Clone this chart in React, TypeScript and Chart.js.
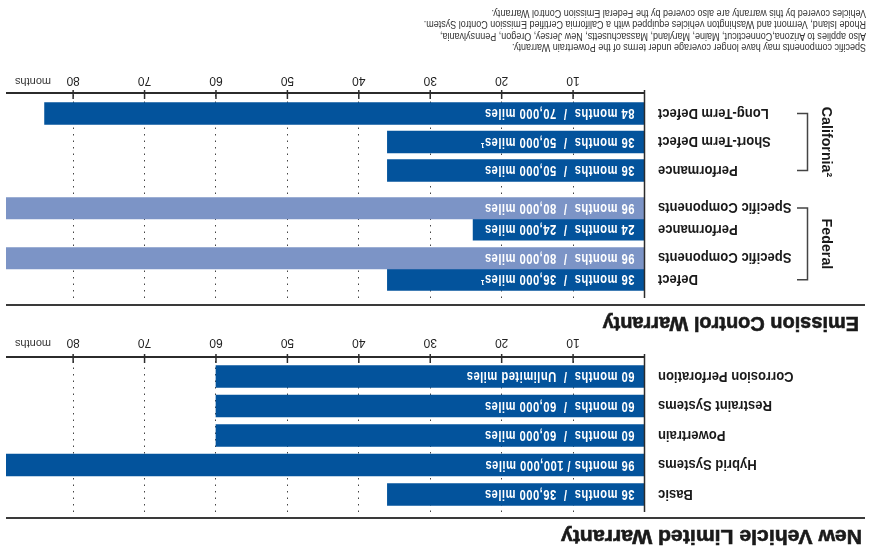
import React, { useEffect, useRef } from 'react';
import { Chart, registerables } from 'chart.js';

Chart.register(...registerables);

// ---------- data ----------
const nvTitle = 'New Vehicle Limited Warranty';
const nvCategories = ['Basic', 'Hybrid Systems', 'Powertrain', 'Restraint Systems', 'Corrosion Perforation'];
const nvMonths = [36, 96, 60, 60, 60];
const nvBarText = [
  '36 months  /  36,000 miles',
  '96 months / 100,000 miles',
  '60 months  /  60,000 miles',
  '60 months  /  60,000 miles',
  '60 months  /  Unlimited miles',
];

const ecTitle = 'Emission Control Warranty';
const fedGroup = 'Federal';
const fedDefectCategories = ['Defect', 'Specific Components'];
const fedDefectMonths = [36, 96];
const fedDefectText = ['36 months  /  36,000 miles\u00B9', '96 months  /  80,000 miles'];
const fedPerfCategories = ['Performance', 'Specific Components'];
const fedPerfMonths = [24, 96];
const fedPerfText = ['24 months  /  24,000 miles', '96 months  /  80,000 miles'];
const fedRowKinds = ['coverage', 'specific'];

const caGroup = 'California\u00B2';
const caCategories = ['Performance', 'Short-Term Defect', 'Long-Term Defect'];
const caMonths = [36, 36, 84];
const caBarText = ['36 months  /  50,000 miles', '36 months  /  50,000 miles\u00B9', '84 months  /  70,000 miles'];

const tickValues = [10, 20, 30, 40, 50, 60, 70, 80];
const axisMax = 89.4;
const axisUnit = 'months';

const footnotes = [
  'Specific components may have longer coverage under terms of the Powertrain Warranty.',
  'Also applies to Arizona,Connecticut, Maine, Maryland, Massachusetts, New Jersey, Oregon, Pennsylvania,',
  'Rhode Island, Vermont and Washington vehicles equipped with a California Certified Emission Control System.',
  'Vehicles covered by this warranty are also covered by the Federal Emission Control Warranty.',
];

// ---------- style ----------
const FONT = "'Liberation Sans', Arial, Helvetica, sans-serif";
const DARK = '#03539C';
const LIGHT = '#7C94C6';
const INK = '#1a1a1a';
const kindColor = (k: string) => (k === 'specific' ? LIGHT : DARK);
const LABEL_AXES = ['y', 'yF1', 'yF2', 'yCa'];

function xScaleCfg(labelPad: number) {
  return {
    type: 'linear',
    axis: 'x',
    position: 'bottom',
    min: 0,
    max: axisMax,
    afterBuildTicks: (s: any) => {
      s.ticks = tickValues.map((v) => ({ value: v }));
    },
    afterFit: (s: any) => {
      s.height = 30;
    },
    grid: { display: true, color: '#444', lineWidth: 1, drawTicks: false },
    border: { display: false, dash: [1.5, 5] },
    ticks: {
      padding: labelPad,
      color: '#222',
      autoSkip: false,
      maxRotation: 0,
      font: { family: FONT, size: 12 },
      callback: (v: any) => String(v),
    },
  };
}

function spacer(weight: number, stackWeight: number, stack: string) {
  return {
    type: 'category',
    axis: 'y',
    position: 'left',
    labels: [''],
    stack,
    stackWeight,
    weight,
    display: false,
  };
}

function catScale(labels: string[], weight: number, stackWeight: number, stack: string) {
  return {
    type: 'category',
    axis: 'y',
    position: 'left',
    labels,
    stack,
    stackWeight,
    weight,
    offset: true,
    afterFit: (s: any) => {
      s.width = 226.5;
    },
    grid: { display: false, drawTicks: false },
    border: { display: false },
    ticks: { display: false, autoSkip: false },
  };
}

function condensedText(
  ctx: CanvasRenderingContext2D,
  text: string,
  x: number,
  y: number,
  font: string,
  color: string,
  align: CanvasTextAlign,
  sx: number,
  spacing: string,
) {
  ctx.save();
  ctx.translate(x, y);
  ctx.scale(sx, 1);
  ctx.font = font;
  (ctx as any).letterSpacing = spacing;
  ctx.fillStyle = color;
  ctx.textAlign = align;
  ctx.textBaseline = 'middle';
  ctx.fillText(text, 0, 0);
  ctx.restore();
}

function drawBracket(ctx: CanvasRenderingContext2D, y0: number, y1: number, text: string) {
  const xv = 63.5;
  const xt = 74;
  ctx.save();
  ctx.strokeStyle = '#444';
  ctx.lineWidth = 1.5;
  ctx.beginPath();
  ctx.moveTo(xt, y0);
  ctx.lineTo(xv, y0);
  ctx.lineTo(xv, y1);
  ctx.lineTo(xt, y1);
  ctx.stroke();
  ctx.translate(44.5, (y0 + y1) / 2);
  ctx.rotate(-Math.PI / 2);
  condensedText(ctx, text, 0, 0, `bold 15px ${FONT}`, INK, 'center', 0.95, '0px');
  ctx.restore();
}

const decorPlugin = {
  id: 'decor',
  afterDraw(chart: any) {
    const { ctx, chartArea: a, scales } = chart;
    const xs = scales.x;
    ctx.save();
    // category labels
    LABEL_AXES.forEach((id) => {
      const s = scales[id];
      if (!s) return;
      const labels = s.getLabels();
      labels.forEach((lab: string, i: number) => {
        condensedText(ctx, lab, a.left - 13.5, s.getPixelForTick(i) + 0.5, `bold 15px ${FONT}`, INK, 'right', 0.87, '0px');
      });
    });
    // bar texts
    chart.data.datasets.forEach((ds: any, di: number) => {
      const meta = chart.getDatasetMeta(di);
      meta.data.forEach((bar: any, i: number) => {
        const t = ds.barText ? ds.barText[i] : '';
        if (!t) return;
        condensedText(ctx, t, bar.base + 10, bar.y + 0.5, `bold 14px ${FONT}`, '#ffffff', 'left', 0.8, '0.6px');
      });
    });
    // axis lines
    ctx.strokeStyle = '#2b2b2b';
    ctx.lineWidth = 2;
    ctx.beginPath();
    ctx.moveTo(a.left, a.bottom);
    ctx.lineTo(a.right, a.bottom);
    ctx.stroke();
    ctx.lineWidth = 1.5;
    ctx.beginPath();
    ctx.moveTo(a.left, a.top);
    ctx.lineTo(a.left, a.bottom + 3);
    ctx.stroke();
    // tick marks
    xs.ticks.forEach((t: any) => {
      const px = xs.getPixelForValue(t.value);
      ctx.beginPath();
      ctx.moveTo(px, a.bottom - 6);
      ctx.lineTo(px, a.bottom + 3);
      ctx.stroke();
    });
    // unit label
    ctx.fillStyle = '#333';
    ctx.font = `11px ${FONT}`;
    ctx.textAlign = 'right';
    ctx.textBaseline = 'top';
    ctx.fillText(axisUnit, a.right - 9, a.bottom + xs.options.ticks.padding + 1);
    // group brackets
    if (scales.yF1 && scales.yF2 && scales.yCa) {
      drawBracket(ctx, scales.yF1.getPixelForTick(0), scales.yF2.getPixelForTick(fedPerfCategories.length - 1), fedGroup);
      drawBracket(ctx, scales.yCa.getPixelForTick(0), scales.yCa.getPixelForTick(caCategories.length - 1), caGroup);
    }
    ctx.restore();
  },
};

function barDs(data: number[], colors: string | string[], yAxisID: string, barText: string[], thick: number) {
  return {
    data,
    backgroundColor: colors,
    borderWidth: 0,
    grouped: false,
    barThickness: thick,
    maxBarThickness: thick,
    yAxisID,
    xAxisID: 'x',
    barText,
  } as any;
}

const commonOptions = (padTop: number) => ({
  indexAxis: 'y',
  responsive: false,
  animation: false,
  events: [],
  layout: { padding: { top: padTop, right: 6, left: 0, bottom: 0 } },
  plugins: { legend: { display: false }, tooltip: { enabled: false }, title: { display: false } },
});

export default function App() {
  const refA = useRef<HTMLCanvasElement | null>(null);
  const refB = useRef<HTMLCanvasElement | null>(null);

  useEffect(() => {
    const chartA = new Chart(refA.current as HTMLCanvasElement, {
      type: 'bar',
      data: { datasets: [barDs(nvMonths, DARK, 'y', nvBarText, 22)] },
      options: {
        ...commonOptions(38),
        scales: {
          x: xScaleCfg(7),
          yS1: spacer(3, 2.75, 'a'),
          y: catScale(nvCategories, 2, 147.5, 'a'),
          yS2: spacer(1, 4.75, 'a'),
        },
      },
      plugins: [decorPlugin],
    } as any);

    const chartB = new Chart(refB.current as HTMLCanvasElement, {
      type: 'bar',
      data: {
        datasets: [
          barDs(fedDefectMonths, fedRowKinds.map(kindColor), 'yF1', fedDefectText, 21.7),
          barDs(fedPerfMonths, fedRowKinds.map(kindColor), 'yF2', fedPerfText, 21.7),
          barDs(caMonths, DARK, 'yCa', caBarText, 21.7),
        ],
      },
      options: {
        ...commonOptions(22),
        scales: {
          x: xScaleCfg(5),
          yS1: spacer(9, 7.3, 'b'),
          yF1: catScale(fedDefectCategories, 8, 43.3, 'b'),
          yS2: spacer(7, 6.7, 'b'),
          yF2: catScale(fedPerfCategories, 6, 43.2, 'b'),
          yS3: spacer(5, 12.5, 'b'),
          yCa: catScale(caCategories, 4, 85.2, 'b'),
          yS4: spacer(3, 6.3, 'b'),
        },
      },
      plugins: [decorPlugin],
    } as any);

    return () => {
      chartA.destroy();
      chartB.destroy();
    };
  }, []);

  const text: React.CSSProperties = { position: 'absolute', fontFamily: FONT, color: INK, whiteSpace: 'nowrap', margin: 0 };
  const title: React.CSSProperties = {
    ...text,
    fontSize: 21,
    fontWeight: 'bold',
    lineHeight: '21px',
    transformOrigin: '0 0',
    WebkitTextStroke: '0.6px ' + INK,
  };
  const rule: React.CSSProperties = { position: 'absolute', left: 6, width: 859, height: 2.5, background: '#3a3a3a' };

  return (
    <div
      style={{
        position: 'absolute',
        left: 0,
        top: 0,
        width: 871,
        height: 550,
        background: '#fff',
        overflow: 'hidden',
        transform: 'rotate(180deg)',
        transformOrigin: '50% 50%',
      }}
    >
      <canvas ref={refA} width={871} height={223} style={{ position: 'absolute', left: 0, top: 0, width: 871, height: 223 }} />
      <canvas ref={refB} width={871} height={257} style={{ position: 'absolute', left: 0, top: 230, width: 871, height: 257 }} />
      <div style={{ ...title, left: 9, top: 2.2, transform: 'scaleX(1.01)' }}>{nvTitle}</div>
      <div style={{ ...rule, top: 30.5 }} />
      <div style={{ ...title, left: 12, top: 215.2, transform: 'scaleX(0.95)' }}>{ecTitle}</div>
      <div style={{ ...rule, top: 243.8 }} />
      <div
        style={{
          ...text,
          left: 5,
          top: 497,
          fontSize: 11,
          lineHeight: '11.4px',
          color: '#333',
          transform: 'scaleX(0.82)',
          transformOrigin: '0 0',
        }}
      >
        {footnotes.map((f, i) => (
          <div key={i}>{f}</div>
        ))}
      </div>
    </div>
  );
}
